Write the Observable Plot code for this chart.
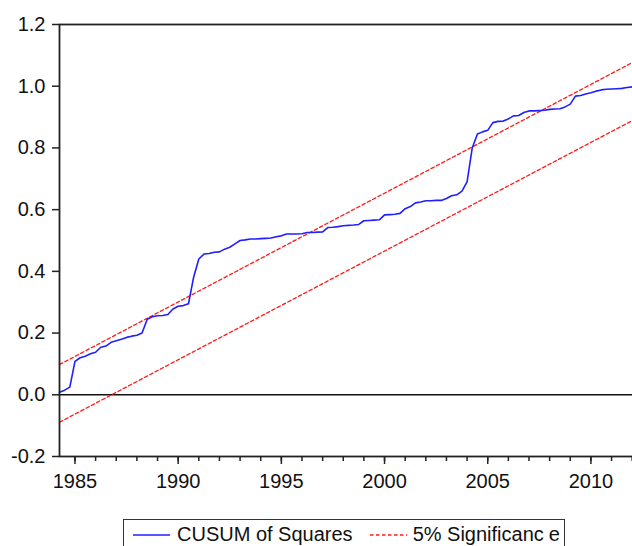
<!DOCTYPE html>
<html>
<head>
<meta charset="utf-8">
<script src="https://cdn.jsdelivr.net/npm/d3@7"></script>
<script src="https://cdn.jsdelivr.net/npm/@observablehq/plot@0.6"></script>
<style>
  html, body { margin: 0; padding: 0; background: #fff; overflow: hidden; width: 632px; height: 546px; }
  #chart { position: absolute; left: 0; top: 0; width: 650px; }
  #chart svg { max-width: none !important; width: 650px; height: 505px; }
  .legend {
    position: absolute; left: 123px; top: 519px; width: 442px; height: 31px;
    box-sizing: border-box; border: 1.5px solid #333; background: #fff;
    display: flex; align-items: center; padding-left: 9px;
    font-family: "Liberation Sans", Arial, sans-serif; font-size: 20px; color: #111;
    white-space: nowrap;
  }
  .legend svg { display: block; }
  .legend .txt { margin-left: 7px; }
  .legend .gap { width: 17px; }
</style>
</head>
<body>
<div id="chart"></div>
<div class="legend">
  <svg width="37" height="10"><line x1="0" x2="37" y1="5" y2="5" stroke="#1f1fff" stroke-width="1.6"/></svg>
  <span class="txt">CUSUM of Squares</span>
  <span class="gap"></span>
  <svg width="37" height="10"><line x1="0" x2="37" y1="5" y2="5" stroke="#ff1a1a" stroke-width="1.3" stroke-dasharray="3.5,2.5"/></svg>
  <span class="txt" style="margin-left:6px">5% Significanc<span style="margin-left:5px">e</span></span>
</div>
<script>
// Quarterly observations, 1984Q2 .. 2012Q3
const firstQuarter = 1984.25;
const cusumSquares = [
  0.008, 0.015, 0.025, 0.108, 0.120, 0.125, 0.133, 0.138, 0.154, 0.158,
  0.170, 0.175, 0.180, 0.186, 0.190, 0.193, 0.200, 0.245, 0.253, 0.256,
  0.257, 0.260, 0.278, 0.287, 0.289, 0.295, 0.381, 0.440, 0.456, 0.458,
  0.462, 0.463, 0.472, 0.478, 0.489, 0.500, 0.502, 0.505, 0.505, 0.506,
  0.507, 0.508, 0.512, 0.515, 0.521, 0.521, 0.521, 0.522, 0.526, 0.526,
  0.527, 0.528, 0.542, 0.543, 0.545, 0.548, 0.549, 0.550, 0.552, 0.564,
  0.565, 0.566, 0.567, 0.583, 0.584, 0.585, 0.588, 0.603, 0.610, 0.622,
  0.625, 0.629, 0.629, 0.630, 0.630, 0.636, 0.645, 0.648, 0.660, 0.690,
  0.800, 0.845, 0.852, 0.857, 0.882, 0.886, 0.887, 0.894, 0.904, 0.905,
  0.915, 0.920, 0.920, 0.921, 0.922, 0.925, 0.926, 0.927, 0.933, 0.942,
  0.968, 0.970, 0.975, 0.979, 0.984, 0.988, 0.990, 0.991, 0.992, 0.993,
  0.996, 0.998, 0.999, 1.000
];
const lastQuarter = firstQuarter + (cusumSquares.length - 1) * 0.25;

// 5% significance bands: straight lines between their end values
const upperBandEnds = [0.098, 1.094];
const lowerBandEnds = [-0.089, 0.906];

const yTicks = [-0.2, 0.0, 0.2, 0.4, 0.6, 0.8, 1.0, 1.2];
const majorYears = [1985, 1990, 1995, 2000, 2005, 2010];
const minorYears = d3.range(1985, 2013);

const cusum = cusumSquares.map((v, i) => ({date: firstQuarter + i * 0.25, value: v}));
const upper = [{date: firstQuarter, value: upperBandEnds[0]}, {date: lastQuarter, value: upperBandEnds[1]}];
const lower = [{date: firstQuarter, value: lowerBandEnds[0]}, {date: lastQuarter, value: lowerBandEnds[1]}];

const chart = Plot.plot({
  width: 650,
  height: 505,
  marginLeft: 59,
  marginRight: 8,
  marginTop: 24,
  marginBottom: 49,
  style: {fontFamily: "Liberation Sans, Arial, sans-serif", fontSize: "20px", color: "#111", background: "#fff", overflow: "visible", maxWidth: "none"},
  x: {domain: [firstQuarter, lastQuarter]},
  y: {domain: [-0.2, 1.2]},
  marks: [
    Plot.axisY({ticks: yTicks, tickSize: 7, tickPadding: 7, tickFormat: d => d.toFixed(1), label: null, stroke: "#222", strokeWidth: 1.5, fill: "#111"}),
    Plot.axisX({ticks: minorYears, tickSize: 5, tickFormat: () => "", label: null, stroke: "#222", strokeWidth: 1.5}),
    Plot.axisX({ticks: majorYears, tickSize: 8, tickPadding: 9, tickFormat: d => String(d), label: null, stroke: "#222", strokeWidth: 1.5, fill: "#111"}),
    Plot.ruleY([0], {stroke: "#111", strokeWidth: 1.5}),
    Plot.line(upper, {x: "date", y: "value", stroke: "#ff1a1a", strokeWidth: 1.3, strokeDasharray: "3.5,2.5"}),
    Plot.line(lower, {x: "date", y: "value", stroke: "#ff1a1a", strokeWidth: 1.3, strokeDasharray: "3.5,2.5"}),
    Plot.line(cusum, {x: "date", y: "value", stroke: "#1f1fff", strokeWidth: 1.6}),
    Plot.frame({stroke: "#222", strokeWidth: 1.8})
  ]
});
document.getElementById("chart").appendChild(chart);
</script>
</body>
</html>
